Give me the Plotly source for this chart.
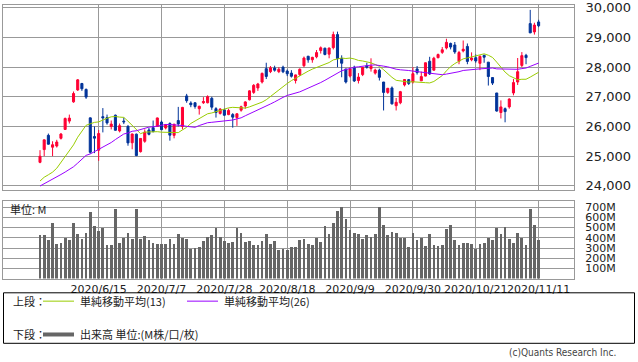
import plotly.graph_objects as go

W, H = 638, 362

dates = ["2020/5/26","2020/5/27","2020/5/28","2020/5/29",
 "2020/6/1","2020/6/2","2020/6/3","2020/6/4","2020/6/5","2020/6/8","2020/6/9","2020/6/10","2020/6/11","2020/6/12",
 "2020/6/15","2020/6/16","2020/6/17","2020/6/18","2020/6/19","2020/6/22","2020/6/23","2020/6/24","2020/6/25","2020/6/26",
 "2020/6/29","2020/6/30","2020/7/1","2020/7/2","2020/7/6","2020/7/7","2020/7/8","2020/7/9","2020/7/10",
 "2020/7/13","2020/7/14","2020/7/15","2020/7/16","2020/7/17","2020/7/20","2020/7/21","2020/7/22","2020/7/23","2020/7/24",
 "2020/7/27","2020/7/28","2020/7/29","2020/7/30","2020/7/31","2020/8/3","2020/8/4","2020/8/5","2020/8/6","2020/8/7",
 "2020/8/10","2020/8/11","2020/8/12","2020/8/13","2020/8/14","2020/8/17","2020/8/18","2020/8/19","2020/8/20","2020/8/21",
 "2020/8/24","2020/8/25","2020/8/26","2020/8/27","2020/8/28","2020/8/31","2020/9/1","2020/9/2","2020/9/3","2020/9/4",
 "2020/9/8","2020/9/9","2020/9/10","2020/9/11","2020/9/14","2020/9/15","2020/9/16","2020/9/17","2020/9/18",
 "2020/9/21","2020/9/22","2020/9/23","2020/9/24","2020/9/25","2020/9/28","2020/9/29","2020/9/30","2020/10/1","2020/10/2",
 "2020/10/5","2020/10/6","2020/10/7","2020/10/8","2020/10/9","2020/10/12","2020/10/13","2020/10/14","2020/10/15","2020/10/16",
 "2020/10/19","2020/10/20","2020/10/21","2020/10/22","2020/10/23","2020/10/26","2020/10/27","2020/10/28","2020/10/29","2020/10/30",
 "2020/11/2","2020/11/3","2020/11/4","2020/11/5","2020/11/6","2020/11/9","2020/11/10","2020/11/11"]

open_ = [24790,25220,25700,25300,25340,25600,25900,26180,26830,27232,
 27450,27250,26290,25660,25200,26330,26300,26000,26380,25850,
 26180,26000,25450,25740,25150,25500,25880,25960,26000,26150,
 25950,26100,25700,26200,26000,27030,26790,26800,26600,26800,
 26800,26950,26600,26440,26560,26400,26400,26300,26550,26690,
 26900,27150,27300,27500,27950,27850,27970,27850,28000,27870,
 27800,27550,27750,28050,28370,28250,28350,28560,28640,28440,
 28660,29100,28300,27940,27700,28000,27550,27750,28050,27950,
 27800,27900,27500,27150,27300,26700,26800,27400,27580,27500,
 27940,27540,27700,28200,27900,28320,28500,28650,28800,28750,
 28200,28550,28700,28250,28320,28130,28400,28170,27650,27130,
 26470,26600,26660,27130,27500,28060,28400,29470,29190,29526]
high = [25200,25560,25760,25500,25550,25780,26300,26400,27180,27600,
 27470,27280,26300,26000,25880,26620,26400,26200,26400,26100,
 26300,26050,25760,25760,25600,25900,25950,26200,26300,26200,
 26080,26140,26090,26660,26660,27100,26850,26810,26700,26990,
 27050,27000,26650,26620,26600,26600,26450,26440,26700,26850,
 27220,27430,27470,27820,28150,28040,28050,28000,28050,27920,
 27900,27750,27960,28360,28380,28350,28580,28700,28660,28660,
 29200,29200,28400,27940,28000,28050,27800,28000,28150,28300,
 27950,27950,27500,27300,27350,26960,27200,27600,27600,28000,
 28040,27850,28160,28350,28350,28460,28680,28960,28830,28850,
 28550,28900,28800,28500,28430,28400,28420,28170,27650,27130,
 26880,26640,26950,27600,28310,28510,28450,29934,29500,29600]
low = [24760,25000,25390,25000,25290,25560,25880,26100,26800,27200,
 27200,26930,25080,25100,24840,25800,26060,25900,25860,25800,
 26080,25350,25230,25000,25120,25450,25700,25800,25990,25880,
 25900,25520,25600,26000,25900,26800,26650,26600,26400,26760,
 26780,26560,26300,26400,26350,26380,25960,26020,26500,26600,
 26880,27100,27200,27450,27600,27800,27850,27800,27800,27700,
 27650,27450,27700,28000,28150,28150,28300,28460,28400,28300,
 28600,28000,27660,27450,27650,27500,27450,27700,27950,27850,
 27750,27550,26540,27100,26740,26540,26750,27350,27400,27450,
 27750,27540,27690,27740,27880,28300,28450,28600,28600,28450,
 28100,28500,28100,28200,28150,27900,28150,27380,27400,26500,
 26270,26140,26600,27050,27400,28000,28100,29150,29100,29350]
close = [24995,25548,25401,25383,25475,25743,26270,26282,27111,27572,
 27272,26990,25128,25606,25763,26290,26120,26080,25871,26025,
 26156,25446,25746,25016,25596,25813,25735,25827,26287,25890,
 26067,25706,26075,26086,26643,26870,26735,26672,26681,26840,
 27006,26652,26470,26585,26379,26540,26314,26428,26664,26828,
 27201,27387,27433,27791,27687,27977,27897,27931,27845,27778,
 27693,27740,27930,28308,28248,28332,28492,28654,28430,28646,
 29100,28293,28133,27501,27940,27535,27666,27993,27996,28032,
 27902,27657,27148,27288,26763,26815,27174,27584,27453,27782,
 27817,27683,28149,27773,28303,28426,28587,28838,28680,28514,
 28494,28606,28195,28309,28211,28364,28336,27685,27463,26520,
 26659,26502,26925,27480,27848,28390,28323,29158,29421,29398]

ma13 = [24159,24287,24370,24459,24591,24783,24986,25186,25379,25638,
 25845,26039,26090,26137,26154,26222,26279,26325,26335,26316,
 26306,26178,26038,25864,25757,25810,25820,25825,25824,25807,
 25806,25793,25797,25792,25884,25970,26102,26185,26252,26337,
 26428,26456,26500,26540,26592,26628,26645,26629,26613,26620,
 26661,26715,26761,26821,26901,27016,27117,27237,27337,27450,
 27547,27630,27715,27800,27866,27935,27989,28063,28098,28156,
 28246,28280,28308,28293,28308,28278,28228,28209,28183,28148,
 28090,28030,27915,27776,27658,27557,27531,27504,27498,27507,
 27493,27469,27478,27468,27518,27617,27716,27876,28019,28122,
 28192,28281,28313,28351,28391,28408,28451,28403,28329,28170,
 28003,27835,27713,27635,27577,27592,27593,27666,27747,27829]
ma26 = [23990,24063,24154,24228,24303,24379,24461,24545,24640,24764,
 24901,25025,25073,25148,25220,25296,25369,25458,25559,25651,
 25746,25779,25838,25855,25898,25950,25978,25989,26023,26043,
 26065,26064,26057,26049,26031,26004,25983,25971,26031,26078,
 26126,26140,26154,26173,26192,26212,26218,26256,26291,26361,
 26423,26483,26549,26624,26678,26758,26829,26914,26982,27047,
 27088,27121,27167,27230,27290,27348,27405,27482,27557,27637,
 27741,27809,27879,27920,27969,27996,28014,28037,28059,28068,
 28077,28064,28036,28011,27969,27932,27912,27906,27888,27868,
 27851,27826,27813,27779,27774,27766,27746,27767,27788,27827,
 27848,27889,27910,27922,27930,27943,27960,27961,27973,27943,
 27939,27927,27918,27914,27929,27952,27972,28028,28077,28140]

volume_m = [424,424,376,546,337,353,401,376,546,434,
 385,450,658,520,466,498,328,328,684,353,
 401,450,385,684,385,414,376,347,337,344,
 337,385,337,434,401,385,295,299,311,369,
 411,424,498,408,369,353,360,498,443,360,
 369,328,328,369,434,337,369,283,295,283,
 311,311,376,385,337,328,401,360,520,434,
 546,665,700,588,472,450,434,385,424,411,
 440,700,530,424,459,450,401,401,311,450,
 376,395,315,440,328,315,328,491,530,376,
 328,353,353,344,295,337,347,401,376,498,
 434,507,385,353,450,401,328,684,530,376]

date_ticks = ["2020/6/15","2020/7/7","2020/7/28","2020/8/18","2020/9/9","2020/9/30","2020/10/21","2020/11/11"]
price_ticks = [24000,25000,26000,27000,28000,29000,30000]
price_labels = ["24,000","25,000","26,000","27,000","28,000","29,000","30,000"]
vol_ticks = [100,200,300,400,500,600,700]
vol_labels = ["100M","200M","300M","400M","500M","600M","700M"]

RED = "#ff0033"
BLUE = "#003399"
GRID = "#999999"
NUM_FONT = "DejaVu Sans"
JP_FONT = "Noto Sans CJK JP"

fig = go.Figure()
fig.add_trace(go.Candlestick(
    x=dates, open=open_, high=high, low=low, close=close,
    increasing=dict(line=dict(color=RED, width=1), fillcolor=RED),
    decreasing=dict(line=dict(color=BLUE, width=1), fillcolor=BLUE),
    whiskerwidth=0, xaxis="x", yaxis="y", showlegend=False, hoverinfo="skip"))
fig.add_trace(go.Scatter(x=dates, y=ma13, mode="lines", line=dict(color="#99cc00", width=1),
                         xaxis="x", yaxis="y", showlegend=False, hoverinfo="skip"))
fig.add_trace(go.Scatter(x=dates, y=ma26, mode="lines", line=dict(color="#9900ff", width=1),
                         xaxis="x", yaxis="y", showlegend=False, hoverinfo="skip"))
fig.add_trace(go.Bar(x=dates, y=volume_m, marker=dict(color="#666666", line=dict(width=0)),
                     width=0.65, xaxis="x2", yaxis="y2", showlegend=False, hoverinfo="skip"))

def px(x): return x / W
def py(y): return 1 - y / H

xr = [(3 - 40) / 4.19, (574 - 40) / 4.19]
xdom = [px(3), px(574)]

fig.update_layout(
    width=W, height=H, margin=dict(l=0, r=0, t=0, b=0, pad=0),
    paper_bgcolor="white", plot_bgcolor="white",
    bargap=0,
    xaxis=dict(domain=xdom, type="category", range=xr, tickvals=date_ticks, showticklabels=False,
               showgrid=True, gridcolor=GRID, gridwidth=1, showline=True, mirror=True, linecolor=GRID,
               linewidth=1, rangeslider=dict(visible=False), anchor="y", fixedrange=True),
    yaxis=dict(domain=[py(190), py(1)], range=[23845, 30099], side="right", tickvals=price_ticks,
               ticktext=price_labels, showgrid=True, gridcolor=GRID, gridwidth=1, zeroline=False,
               showline=True, mirror=True, linecolor=GRID, linewidth=1, ticks="outside", ticklen=8,
               tickcolor="rgba(0,0,0,0)", tickfont=dict(family=NUM_FONT, size=13, color="#222222"),
               ticklabeloverflow="allow", anchor="x"),
    xaxis2=dict(domain=xdom, type="category", range=xr, tickvals=date_ticks, ticktext=date_ticks,
                showgrid=True, gridcolor=GRID, gridwidth=1, showline=True, mirror=True, linecolor=GRID,
                linewidth=1, ticks="", tickangle=0, tickfont=dict(family=NUM_FONT, size=11, color="#222222"),
                anchor="y2"),
    yaxis2=dict(domain=[py(280), py(201)], range=[0, 760], side="right", tickvals=vol_ticks,
                ticktext=vol_labels, showgrid=True, gridcolor=GRID, gridwidth=1, zeroline=False,
                showline=True, mirror=True, linecolor=GRID, linewidth=1, ticks="outside", ticklen=8,
                tickcolor="rgba(0,0,0,0)", tickfont=dict(family=NUM_FONT, size=11, color="#222222"),
                anchor="x2"),
)

ann = []
def label(x, y, text, size=11, anchor="left", family=JP_FONT, color="#222222"):
    ann.append(dict(x=px(x), y=py(y), text=text, showarrow=False, xanchor=anchor, yanchor="middle",
                    xref="paper", yref="paper", font=dict(family=family, size=size, color=color)))

label(8, 209.5, "単位: M")
label(11, 303, "上段：")
label(78, 303, "単純移動平均(13)")
label(222, 303, "単純移動平均(26)")
label(11, 337, "下段：")
label(78, 337, "出来高 単位:(M株/口/枚)")
label(618, 355, "(c)Quants Research Inc.", size=10, anchor="right",
      family="Liberation Sans Narrow, DejaVu Sans Condensed", color="#444444")
fig.update_layout(annotations=ann)

shapes = [
    dict(type="rect", xref="paper", yref="paper", x0=px(3.5), x1=px(634.5), y0=py(346), y1=py(294.5),
         line=dict(color="#000000", width=1), fillcolor="rgba(0,0,0,0)"),
    dict(type="line", xref="paper", yref="paper", x0=px(43), x1=px(74), y0=py(303), y1=py(303),
         line=dict(color="#99cc00", width=1)),
    dict(type="line", xref="paper", yref="paper", x0=px(187), x1=px(218), y0=py(303), y1=py(303),
         line=dict(color="#9900ff", width=1)),
    dict(type="line", xref="paper", yref="paper", x0=px(43), x1=px(74), y0=py(337), y1=py(337),
         line=dict(color="#666666", width=4)),
]
fig.update_layout(shapes=shapes)

fig.write_html("out.html", config={"displayModeBar": False, "staticPlot": True},
               post_script="document.body.style.margin='0px';document.body.style.overflow='hidden';")
